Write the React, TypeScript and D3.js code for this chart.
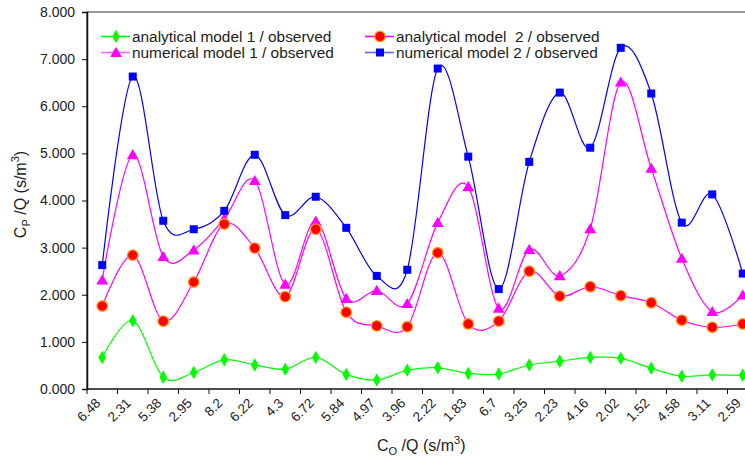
import React, { useEffect, useRef } from "react";
import * as d3 from "d3";

// Co/Q categories along the x axis
const categories = ["6.48", "2.31", "5.38", "2.95", "8.2", "6.22", "4.3", "6.72", "5.84", "4.97", "3.96", "2.22", "1.83", "6.7", "3.25", "2.23", "4.16", "2.02", "1.52", "4.58", "3.11", "2.59"];

const analytical1 = [0.67, 1.45, 0.25, 0.35, 0.62, 0.51, 0.42, 0.67, 0.31, 0.19, 0.40, 0.45, 0.33, 0.32, 0.51, 0.59, 0.67, 0.65, 0.44, 0.27, 0.30, 0.29];
const analytical2 = [1.76, 2.84, 1.44, 2.27, 3.50, 2.99, 1.96, 3.39, 1.63, 1.34, 1.32, 2.89, 1.38, 1.44, 2.50, 1.97, 2.17, 1.98, 1.83, 1.46, 1.31, 1.38];
const numerical1 = [2.31, 4.97, 2.81, 2.95, 3.61, 4.42, 2.22, 3.56, 1.92, 2.09, 1.81, 3.53, 4.29, 1.71, 2.96, 2.40, 3.40, 6.51, 4.68, 2.77, 1.64, 1.99];
const numerical2 = [2.63, 6.63, 3.57, 3.39, 3.78, 4.97, 3.69, 4.08, 3.42, 2.40, 2.53, 6.80, 4.93, 2.12, 4.82, 6.29, 5.12, 7.24, 6.27, 3.53, 4.13, 2.45];

const yTicks = [0, 1, 2, 3, 4, 5, 6, 7, 8];

const seriesNames = [
  "analytical model 1 / observed",
  "analytical model  2 / observed",
  "numerical model 1 / observed",
  "numerical model 2 / observed",
];

const W = 745;
const H = 458;
const FONT = "Liberation Sans, Arial, sans-serif";

function drawMarker(g: any, kind: string, x: number, y: number) {
  if (kind === "diamond") {
    g.append("path")
      .attr("d", d3.symbol(d3.symbolDiamond, 52)())
      .attr("transform", `translate(${x},${y})`)
      .attr("fill", "#00ff00");
  } else if (kind === "circle") {
    g.append("circle")
      .attr("cx", x).attr("cy", y).attr("r", 5.3)
      .attr("fill", "#ff0000")
      .attr("stroke", "#ffa020")
      .attr("stroke-width", 1.3);
  } else if (kind === "triangle") {
    g.append("path")
      .attr("d", d3.symbol(d3.symbolTriangle, 60)())
      .attr("transform", `translate(${x},${y + 1})`)
      .attr("fill", "#ff00ff");
  } else {
    g.append("rect")
      .attr("x", x - 4).attr("y", y - 4)
      .attr("width", 8).attr("height", 8)
      .attr("fill", "#0000ff");
  }
}

// "C_sub /Q (s/m^3)" title built from tspans
function axisTitle(t: any, sub: string) {
  t.append("tspan").text("C");
  t.append("tspan").attr("font-size", 11).attr("dy", 4).text(sub);
  t.append("tspan").attr("dy", -4).text(" /Q (s/m");
  t.append("tspan").attr("font-size", 11).attr("dy", -7).text("3");
  t.append("tspan").attr("dy", 7).text(")");
}

export default function App() {
  const ref = useRef<SVGSVGElement>(null);

  useEffect(() => {
    document.body.style.margin = "0";
    const svg = d3.select(ref.current);
    svg.selectAll("*").remove();

    const left = 87, right = 758, top = 12, bottom = 389;

    const x = d3.scaleBand<string>().domain(categories).range([left, right]).padding(0);
    const y = d3.scaleLinear().domain([0, 8]).range([bottom, top]);
    const cx = (i: number) => (x(categories[i]) as number) + x.bandwidth() / 2;

    // plot border (top + left), right edge runs off the picture
    svg.append("path")
      .attr("d", `M${left},${bottom}V${top}H${right}`)
      .attr("fill", "none")
      .attr("stroke", "#333")
      .attr("stroke-width", 1.2);

    // y axis
    const yAxis = svg.append("g")
      .attr("transform", `translate(${left},0)`)
      .call(d3.axisLeft(y).tickValues(yTicks).tickFormat(d3.format(".3f")).tickSize(5).tickPadding(7));
    yAxis.select(".domain").attr("stroke", "#111").attr("stroke-width", 1.5);
    yAxis.selectAll("line").attr("stroke", "#111");
    yAxis.selectAll("text").attr("font-family", FONT).attr("font-size", 14).attr("fill", "#222");

    // x axis line + ticks at band boundaries
    svg.append("line")
      .attr("x1", left).attr("x2", right).attr("y1", bottom).attr("y2", bottom)
      .attr("stroke", "#111").attr("stroke-width", 1.5);
    const bounds = categories.map((c) => x(c) as number).concat([right]);
    svg.append("g").selectAll("line").data(bounds).enter().append("line")
      .attr("x1", (d) => d).attr("x2", (d) => d)
      .attr("y1", bottom).attr("y2", bottom + 5)
      .attr("stroke", "#111");
    svg.append("g").selectAll("text").data(categories).enter().append("text")
      .attr("transform", (d, i) => `translate(${cx(i) - 1},${bottom + 15}) rotate(-45)`)
      .attr("text-anchor", "end")
      .attr("font-family", FONT)
      .attr("font-size", 13.5)
      .attr("fill", "#222")
      .text((d) => d);

    // axis titles
    const xt = svg.append("text")
      .attr("x", 377).attr("y", 451)
      .attr("font-family", FONT).attr("font-size", 16).attr("fill", "#222");
    axisTitle(xt, "O");

    const yt = svg.append("text")
      .attr("transform", `translate(26,${(top + bottom) / 2 - 6}) rotate(-90)`)
      .attr("text-anchor", "middle")
      .attr("font-family", FONT).attr("font-size", 16).attr("fill", "#222");
    axisTitle(yt, "P");

    const series = [
      { values: analytical1, line: "#00ff00", marker: "diamond" },
      { values: numerical1, line: "#ff00ff", marker: "triangle" },
      { values: analytical2, line: "#ff00ff", marker: "circle" },
      { values: numerical2, line: "#0000ff", marker: "square" },
    ];

    const lineGen = d3.line<number>()
      .x((d, i) => cx(i))
      .y((d) => y(d))
      .curve(d3.curveCardinal.tension(0));

    const plot = svg.append("g");
    series.forEach((s) => {
      plot.append("path")
        .datum(s.values)
        .attr("d", lineGen)
        .attr("fill", "none")
        .attr("stroke", s.line)
        .attr("stroke-width", 1.2);
    });
    series.forEach((s) => {
      const g = plot.append("g");
      s.values.forEach((v, i) => drawMarker(g, s.marker, cx(i), y(v)));
    });

    // legend
    const legendItems = [
      { name: seriesNames[0], line: "#00ff00", marker: "diamond", x: 101, y: 36.5 },
      { name: seriesNames[1], line: "#ff00ff", marker: "circle", x: 365, y: 36.5 },
      { name: seriesNames[2], line: "#ff66ff", marker: "triangle", x: 101, y: 52.5 },
      { name: seriesNames[3], line: "#6666ff", marker: "square", x: 365, y: 52.5 },
    ];
    const lg = svg.append("g");
    legendItems.forEach((it) => {
      lg.append("line")
        .attr("x1", it.x).attr("x2", it.x + 29)
        .attr("y1", it.y).attr("y2", it.y)
        .attr("stroke", it.line).attr("stroke-width", 1.6);
      drawMarker(lg, it.marker, it.x + 15, it.y);
      lg.append("text")
        .attr("x", it.x + 31).attr("y", it.y + 5.3)
        .attr("font-family", FONT).attr("font-size", 15.4).attr("fill", "#222")
        .attr("xml:space", "preserve")
        .style("white-space", "pre")
        .text(it.name);
    });
  }, []);

  return <svg ref={ref} width={W} height={H} style={{ display: "block", background: "#fff" }} />;
}
